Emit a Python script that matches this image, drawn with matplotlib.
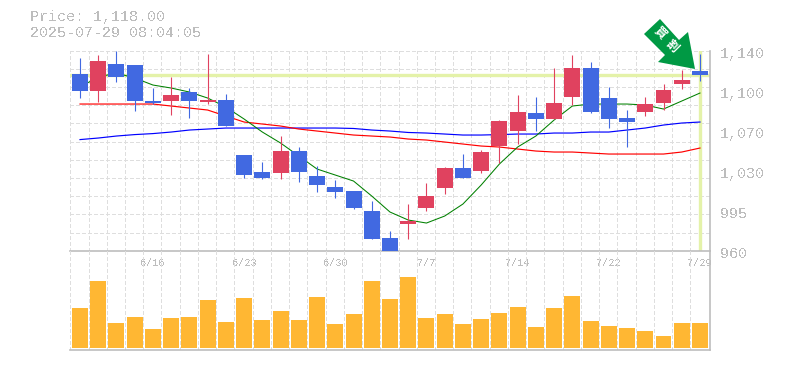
import matplotlib
matplotlib.use("Agg")
import matplotlib.pyplot as plt
import numpy as np
from matplotlib.patches import Polygon
from matplotlib.transforms import ScaledTranslation, Affine2D

W, H = 785, 370
plt.rcParams['font.family'] = ['Liberation Mono', 'DejaVu Sans Mono']
plt.rcParams['lines.scale_dashes'] = False
plt.rcParams['text.antialiased'] = False

title_lines = ["Price: 1,118.00", "2025-07-29 08:04:05"]
last_price = 1118.0

opens = [1119.0,1103.7,1128.0,1127.1,1094.7,1094.7,1102.8,1093.8,1095.6,1046.1,1030.8,1029.9,1049.7,1027.2,1017.3,
         1013.7,995.7,971.4,984.0,998.4,1016.4,1034.4,1031.7,1054.2,1067.7,1083.9,1078.5,1098.3,1124.4,1097.4,
         1079.4,1084.8,1092.9,1110.0,1121.7]
closes = [1103.7,1130.7,1116.3,1094.7,1092.9,1100.1,1094.7,1095.6,1072.2,1028.1,1025.4,1049.7,1030.8,1019.1,1012.8,
          998.4,970.5,960.0,986.7,1009.2,1034.4,1025.4,1048.8,1076.7,1084.8,1078.5,1092.9,1124.4,1084.8,1078.5,
          1075.8,1092.0,1104.6,1113.6,1118.1]
highs = [1133.4,1136.1,1139.7,1127.1,1106.4,1116.3,1106.4,1137.0,1101.0,1046.1,1039.8,1063.2,1053.3,1036.2,1023.6,
         1013.7,1004.7,977.7,1002.0,1020.9,1035.3,1047.0,1050.6,1077.6,1100.1,1098.3,1124.4,1136.1,1129.8,1107.3,
         1086.6,1098.3,1110.0,1122.6,1137.0]
lows = [1097.4,1093.8,1111.8,1085.7,1092.0,1082.1,1079.4,1092.0,1072.2,1025.4,1024.5,1024.5,1021.8,1012.8,1007.4,
        997.5,970.5,960.0,970.5,995.7,1011.0,1025.4,1029.9,1038.9,1056.0,1067.7,1078.5,1091.1,1083.9,1070.4,
        1053.3,1081.2,1086.6,1105.5,1112.7]
ma_short = [1107.3,1116.3,1119.9,1115.4,1109.1,1106.4,1102.8,1097.4,1089.3,1078.5,1066.8,1056.9,1045.2,1033.5,1028.1,
            1022.7,1009.2,994.8,987.6,984.9,991.2,1002.0,1019.1,1038.0,1053.3,1063.2,1077.6,1090.2,1092.0,1092.0,
            1092.0,1091.1,1087.5,1094.7,1101.9]
ma_mid = [1092.0,1092.0,1092.0,1092.0,1092.0,1090.2,1088.4,1086.6,1081.2,1075.8,1074.0,1072.2,1069.5,1067.7,1065.9,
          1064.1,1063.2,1062.3,1060.5,1059.6,1057.8,1056.0,1054.2,1053.3,1051.5,1049.7,1048.8,1048.8,1047.9,1047.0,
          1047.0,1047.0,1047.0,1048.8,1052.4]
ma_long = [1060.0,1061.4,1063.2,1064.5,1065.4,1066.8,1068.6,1069.5,1070.4,1070.4,1070.4,1070.4,1070.4,1070.4,1070.4,
           1070.0,1068.6,1067.7,1066.4,1065.9,1065.0,1064.1,1064.1,1064.5,1065.0,1065.0,1065.9,1065.9,1066.8,1066.8,
           1068.6,1070.4,1073.1,1074.9,1075.8]
volumes = [40,67,25,31,19,30,31,48,26,50,28,37,28,51,24,34,67,49,71,30,34,24,29,35,41,21,40,52,27,22,20,17,12,25,25]

price_ticks = [1140,1104,1068,1032,996,960]
price_labels = ["1,140","1,100","1,070","1,030","995","960"]
date_idx = [4,9,14,19,24,29,34]
date_labels = ["6/16","6/23","6/30","7/7","7/14","7/22","7/29"]
badge_chars = ["買","割"]

GREY = "#bdbdbd"
GRID = "#dedede"
BLUE = "#4169e1"
RED = "#e0425f"
ORANGE = "#ffb733"
HL = "#e4f2a9"
BADGE = "#009944"

fig = plt.figure(figsize=(W/100, H/100), dpi=100)
L, R, T, M, B = 70.3, 710.0, 50.7, 250.7, 350.0
ax = fig.add_axes([L/W, 1-M/H, (R-L)/W, (M-T)/H])
vx = fig.add_axes([L/W, 1-B/H, (R-L)/W, (B-M)/H])
vx.patch.set_alpha(0)

n = len(opens)
x = np.arange(n)
xlim = (-0.532, 34.55)
bar_w = 0.877
dash = (0, (2.6, 2.0))
PX = 0.72

for a in (ax, vx):
    a.set_xlim(*xlim)
    a.set_xticks(np.arange(n) - 0.532)
    a.tick_params(axis='x', which='major', length=0, labelbottom=False)
    a.grid(True, axis='x', color=GRID, lw=PX, ls=dash, zorder=0, antialiased=False)
    a.set_axisbelow(True)
    for s in ('top', 'left'):
        a.spines[s].set_visible(False)
    for s in ('right', 'bottom'):
        a.spines[s].set_color(GREY)
        a.spines[s].set_linewidth(1.2)

ax.set_ylim(960, 1140)
ax.set_yticks(np.linspace(960, 1140, 12))
ax.grid(True, axis='y', color=GRID, lw=PX, ls=dash, zorder=0, antialiased=False)
ax.tick_params(axis='y', which='major', length=0, labelleft=False)

# price labels on a twin y axis on the right
ty = ax.twinx()
ty.set_ylim(960, 1140)
ty.set_yticks(price_ticks, price_labels)
ty.tick_params(axis='y', length=0, pad=7.5, labelsize=10.8, labelcolor=GREY)
for s in ty.spines.values():
    s.set_visible(False)
shift = ScaledTranslation(0, -1.5/72, fig.dpi_scale_trans)
for t in ty.get_yticklabels():
    t.set_transform(t.get_transform() + shift)

ax.axhline(last_price, color=HL, lw=2.4, zorder=1)
ax.axvline(x[-1], color=HL, lw=2.4, zorder=1)

ax.plot(x, ma_long, color="#0000ff", lw=0.85, zorder=2)
ax.plot(x, ma_mid, color="#ff0000", lw=0.85, zorder=2)
ax.plot(x, ma_short, color="#008000", lw=0.75, zorder=2)

colors = [RED if c > o else BLUE for o, c in zip(opens, closes)]
ax.vlines(x, lows, highs, colors=colors, lw=0.8, zorder=3)
body_low = np.minimum(opens, closes)
body_h = np.abs(np.array(closes) - np.array(opens))
ax.bar(x, body_h, bottom=body_low, width=bar_w, color=colors, lw=0, zorder=4)

ax.set_xticks(date_idx, date_labels, minor=True)
ax.tick_params(axis='x', which='minor', length=0, pad=5.2, labelsize=7.4, labelcolor=GREY)

vx.set_ylim(-2, 97.3)
vx.set_yticks([])
vx.bar(x, volumes, width=bar_w, color=ORANGE, lw=0, zorder=3)

fig.text(30/W, 1-17/H, title_lines[0], fontsize=10.8, color=GREY, va='center', ha='left')
fig.text(30/W, 1-33/H, title_lines[1], fontsize=10.8, color=GREY, va='center', ha='left')

# badge arrow, drawn in pixel space of the figure
px = Affine2D().scale(1/W, -1/H).translate(0, 1) + fig.transFigure
fig.add_artist(Polygon([(660,19),(644,34),(665,55),(658,62),(695,69),(688,32),(679,40)],
                       closed=True, facecolor=BADGE, edgecolor='none', transform=px, zorder=6))
for ch, (cx, cy) in zip(badge_chars, [(660,33),(672,46)]):
    t = fig.text(cx/W, 1-cy/H, ch, color='white', fontsize=8.5, fontweight='bold',
                 family=['Noto Sans CJK JP', 'DejaVu Sans'], rotation=-45,
                 rotation_mode='anchor', ha='center', va='center', zorder=7)
    t.set_antialiased(True)

fig.savefig("out.png", dpi=100)
